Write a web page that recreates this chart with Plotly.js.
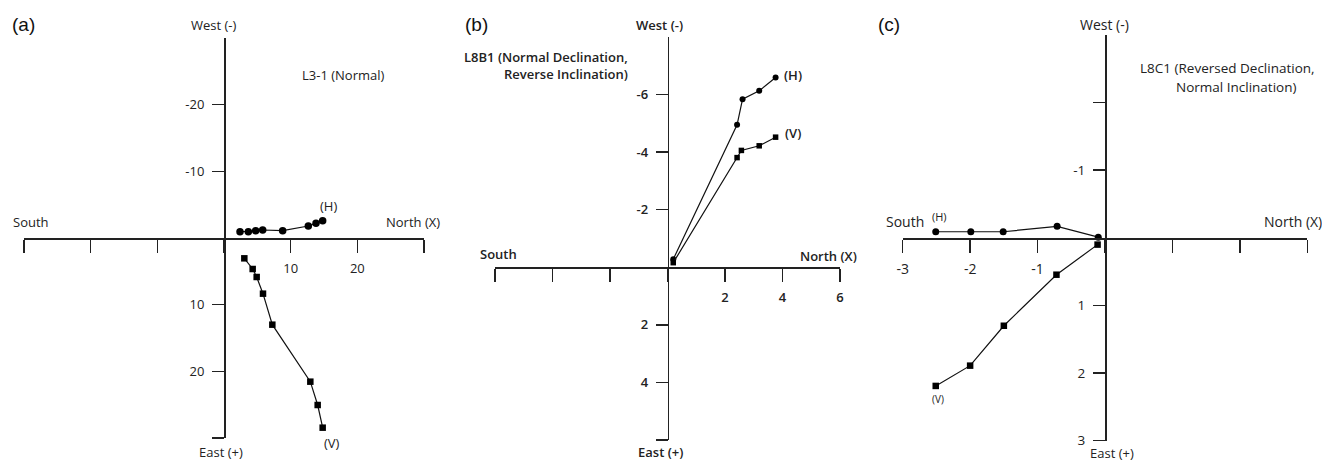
<!DOCTYPE html>
<html><head><meta charset="utf-8">
<script src="https://cdn.plot.ly/plotly-3.0.1.min.js"></script>
<style>html,body{margin:0;padding:0;background:#fff}#chart{width:1322px;height:463px}</style>
</head><body><div id="chart"></div>
<script>
// Panel (a) L3-1
const aHx = [2.4, 3.65, 4.75, 5.8, 8.8, 12.65, 13.8, 14.8];
const aHy = [-0.95, -0.95, -1.1, -1.2, -1.1, -1.8, -2.2, -2.6];
const aVx = [3.05, 4.3, 4.9, 5.85, 7.25, 12.95, 14.05, 14.8];
const aVy = [3.05, 4.65, 5.85, 8.35, 13.0, 21.55, 25.05, 28.45];
// Panel (b) L8B1
const bHx = [0.2, 2.42, 2.61, 3.19, 3.76];
const bHy = [-0.28, -4.95, -5.84, -6.13, -6.59];
const bVx = [0.2, 2.42, 2.57, 3.19, 3.76];
const bVy = [-0.16, -3.81, -4.06, -4.22, -4.52];
// Panel (c) L8C1
const cHx = [-2.51, -1.99, -1.51, -0.71, -0.1];
const cHy = [-0.09, -0.09, -0.09, -0.17, -0.01];
const cVx = [-2.51, -2.0, -1.5, -0.72, -0.11];
const cVy = [2.19, 1.89, 1.30, 0.545, 0.1];

// Tick values / labels
const aXticks = [-30, -20, -10, 0, 10, 20, 30];
const aXlabels = ['', '', '', '', '10', '20', ''];
const aYticks = [-20, -10, 10, 20, 30];
const aYlabels = ['-20', '-10', '10', '20', ''];
const bXticks = [-6, -4, -2, 0, 2, 4, 6];
const bXlabels = ['', '', '', '', '2', '4', '6'];
const bYticks = [-6, -4, -2, 2, 4, 6];
const bYlabels = ['-6', '-4', '-2', '2', '4', ''];
const cXticks = [-3, -2, -1, 0, 1, 2, 3];
const cXlabels = ['-3', '-2', '-1', '', '', '', ''];
const cYticks = [-2, -1, 1, 2, 3];
const cYlabels = ['', '-1', '1', '2', '3'];

const W = 1322, H = 463;
const px = x => x / W, py = y => 1 - y / H;
const FONT = 'Open Sans, Lato, sans-serif';
const INK = '#222';

function trace(x, y, xa, ya, sym, size) {
  return {x, y, xaxis: xa, yaxis: ya, type: 'scatter', mode: 'lines+markers',
    line: {color: '#111', width: 1.2},
    marker: {symbol: sym, size: size, color: '#000'},
    cliponaxis: false, hoverinfo: 'skip'};
}
const data = [
  trace(aHx, aHy, 'x', 'y', 'circle', 7.5),
  trace(aVx, aVy, 'x', 'y', 'square', 6.5),
  trace(bHx, bHy, 'x2', 'y2', 'circle', 6),
  trace(bVx, bVy, 'x2', 'y2', 'square', 5.5),
  trace(cHx, cHy, 'x3', 'y3', 'circle', 7),
  trace(cVx, cVy, 'x3', 'y3', 'square', 6.5)
];

function xax(dom, range, pos, vals, text, weight) {
  return {domain: dom, range: range, anchor: 'free', position: pos, side: 'bottom',
    showgrid: false, zeroline: false, showline: true, linecolor: INK, linewidth: 1.5,
    ticks: 'outside', ticklen: 13, tickwidth: 1.5, tickcolor: INK,
    tickmode: 'array', tickvals: vals, ticktext: text, ticklabelstandoff: 5,
    tickfont: {family: FONT, size: 13, color: INK, weight: weight || 400},
    automargin: false, fixedrange: true};
}
function yax(dom, range, pos, vals, text, weight) {
  return {domain: dom, range: range, anchor: 'free', position: pos, side: 'left',
    showgrid: false, zeroline: false, showline: true, linecolor: INK, linewidth: 1.5,
    ticks: 'outside', ticklen: 12, tickwidth: 1.5, tickcolor: INK,
    tickmode: 'array', tickvals: vals, ticktext: text, ticklabelstandoff: 5,
    tickfont: {family: FONT, size: 13, color: INK, weight: weight || 400},
    automargin: false, fixedrange: true};
}

function ann(text, x, y, opts) {
  opts = opts || {};
  const a = {text, xref: 'paper', yref: 'paper', x: px(x), y: py(y),
    xanchor: 'center', yanchor: 'middle', showarrow: false,
    font: {family: FONT, size: opts.size || 13, color: INK, weight: opts.weight || 400}};
  return Object.assign(a, opts.extra || {});
}
const PL = {family: 'Liberation Sans, Arial, sans-serif', size: 19, color: '#111'};

const annotations = [
  // (a)
  Object.assign(ann('(a)', 23, 25), {font: PL}),
  ann('West (-)', 214, 25),
  ann('L3-1 (Normal)', 343, 75),
  ann('(H)', 328, 206),
  ann('South', 31, 222),
  ann('North (X)', 413, 222),
  ann('(V)', 332, 443),
  ann('East (+)', 221, 463, {extra: {yanchor: 'bottom'}}),
  // (b)
  Object.assign(ann('(b)', 477, 25), {font: PL}),
  ann('West (-)', 659, 25, {weight: 600}),
  ann('L8B1 (Normal Declination,', 630, 57, {weight: 600, extra: {xanchor: 'right'}}),
  ann('Reverse Inclination)', 630, 74, {weight: 600, extra: {xanchor: 'right'}}),
  ann('(H)', 793, 75, {weight: 600}),
  ann('(V)', 793, 133, {weight: 600}),
  ann('South', 498, 254, {weight: 600}),
  ann('North (X)', 828, 256, {weight: 600}),
  ann('East (+)', 660, 463, {weight: 600, extra: {yanchor: 'bottom'}}),
  // (c)
  Object.assign(ann('(c)', 889, 25), {font: PL}),
  ann('West (-)', 1104, 25, {size: 14}),
  ann('L8C1 (Reversed Declination,', 1227, 68, {size: 13.5}),
  ann('Normal Inclination)', 1236, 87, {size: 13.5}),
  ann('South', 905, 222, {size: 14}),
  ann('(H)', 940, 216, {size: 11}),
  ann('North (X)', 1293, 222, {size: 14}),
  ann('(V)', 938, 399, {size: 10}),
  ann('East (+)', 1112, 463, {size: 13, extra: {yanchor: 'bottom', borderpad: 0}})
];

const layout = {
  width: W, height: H, margin: {l: 0, r: 0, t: 0, b: 0, pad: 0},
  paper_bgcolor: '#fff', plot_bgcolor: 'rgba(0,0,0,0)', showlegend: false,
  xaxis: xax([px(24), px(424)], [-30, 30], py(238), aXticks, aXlabels),
  yaxis: yax([py(438), py(38)], [30, -30], px(224), aYticks, aYlabels),
  xaxis2: xax([px(495), px(840)], [-6, 6], py(267.3), bXticks, bXlabels, 600),
  yaxis2: yax([py(440), py(37)], [6, -8], px(667.7), bYticks, bYlabels, 600),
  xaxis3: xax([px(902.7), px(1307.3)], [-3, 3], py(238), cXticks, cXlabels),
  yaxis3: yax([py(440.7), py(35)], [3, -3], px(1105), cYticks, cYlabels),
  annotations: annotations
};
layout.xaxis3.tickfont.size = 14;
layout.yaxis3.tickfont.size = 13.5;

Plotly.newPlot('chart', data, layout, {staticPlot: true, displayModeBar: false});
</script>
</body></html>
